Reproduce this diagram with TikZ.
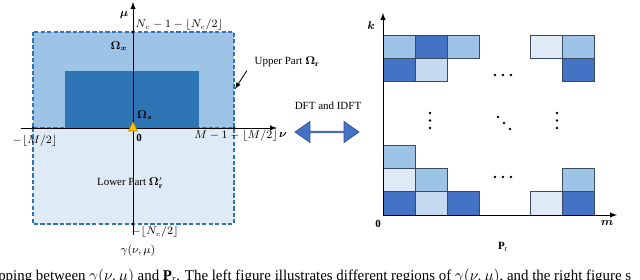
\documentclass[tikz,border=0pt]{standalone}
\usepackage{fontspec}
\setmainfont{Liberation Serif}
\usepackage{amsmath,bm}
\usetikzlibrary{shapes.arrows}

\begin{document}
\begin{tikzpicture}[x=0.025cm,y=-0.025cm,>=latex]

% colors
\definecolor{regionUpper}{HTML}{9DC3E6}
\definecolor{regionLower}{HTML}{DEEBF7}
\definecolor{regionInner}{HTML}{2E75B6}
\definecolor{cellDark}{HTML}{4472C4}
\definecolor{cellMid}{HTML}{9DC3E6}
\definecolor{cellLight}{HTML}{C5D9F1}
\definecolor{cellPale}{HTML}{DEEBF7}
\definecolor{cellBorder}{HTML}{3B4A63}
\definecolor{pilotYellow}{HTML}{FFC000}
\definecolor{pilotBorder}{HTML}{BF9000}
\definecolor{arrowFill}{HTML}{4472C4}
\definecolor{arrowBorder}{HTML}{2F528F}

\def\labelFont{\fontsize{7.8}{9}\selectfont}
\def\cellWidth{32}
\def\cellHeight{23.3}
\def\dotRadius{1.3}

\useasboundingbox (0,0) rectangle (640,279);

% left figure coordinates
\coordinate (upperTopLeft) at (33,32);
\coordinate (upperBottomRight) at (234,128);
\coordinate (lowerBottomRight) at (234,224);
\coordinate (innerTopLeft) at (65,71);
\coordinate (innerBottomRight) at (199,128);
\coordinate (nuStart) at (21,128);
\coordinate (nuEnd) at (277,128);
\coordinate (muStart) at (133,235);
\coordinate (muEnd) at (133,2);
\coordinate (dotTop) at (133,32);
\coordinate (dotBottom) at (133,224);
\coordinate (dotLeft) at (33,128);
\coordinate (dotRight) at (234,128);
\coordinate (upperEdge) at (235,89);

% regions
\fill[regionUpper] (upperTopLeft) rectangle (upperBottomRight);
\fill[regionLower] (dotLeft) rectangle (lowerBottomRight);
\fill[regionInner] (innerTopLeft) rectangle (innerBottomRight);
\draw[regionInner, line width=1pt, dash pattern=on 3pt off 1.6pt] (upperTopLeft) rectangle (upperBottomRight);
\draw[regionInner, line width=1pt, dash pattern=on 3pt off 1.6pt] (dotLeft) rectangle (lowerBottomRight);

% axes
\draw[->, line width=0.7pt] (nuStart) -- (nuEnd);
\draw[->, line width=0.7pt] (muStart) -- (muEnd);
\foreach \p in {dotTop,dotBottom,dotLeft,dotRight}
    \fill (\p) circle (\dotRadius);

% pilot
\draw[fill=pilotYellow, draw=pilotBorder, line width=0.4pt] (128.5,131) -- (137.5,131) -- (133,122) -- cycle;

% left labels
\node[font=\labelFont] (muLabel) at (124,15) {$\bm{\mu}$};
\node[font=\labelFont, anchor=west, inner sep=1pt] (topLabel) at (134,25) {$N_c-1-\lfloor N_c/2\rfloor$};
\node[font=\labelFont] (omegaX) at (119,46) {$\bm{\Omega}_{\bm{x}}$};
\node[font=\labelFont] (omegaS) at (145,115) {$\bm{\Omega}_{\bm{s}}$};
\node[font=\labelFont] (upperLabel) at (287,62) {Upper Part $\bm{\Omega}_{\mathbf{r}}$};
\node[font=\labelFont] (zeroLabel) at (139,138) {$\mathbf{0}$};
\node[font=\labelFont] (leftLabel) at (35,141) {$-\lfloor M/2\rfloor$};
\node[font=\labelFont] (rightLabel) at (236,136) {$M-1-\lfloor M/2\rfloor$};
\node[font=\labelFont] (nuLabel) at (283,135) {$\bm{\nu}$};
\node[font=\labelFont] (lowerLabel) at (130,183) {Lower Part $\bm{\Omega}'_{\mathbf{r}}$};
\node[font=\labelFont] (bottomLabel) at (155,232) {$-\lfloor N_c/2\rfloor$};
\node[font=\labelFont] (gammaLabel) at (138,251) {$\gamma(\nu,\mu)$};

\draw[->, line width=0.6pt] ([xshift=-2pt,yshift=1pt]upperLabel.south west) -- (upperEdge);

% transform arrow
\node[font=\labelFont] (dftLabel) at (328,106) {DFT and IDFT};
\node[double arrow, fill=arrowFill, draw=arrowBorder, line width=0.5pt, inner sep=0pt,
    minimum height=1.6cm, minimum width=0.525cm, double arrow head extend=0.125cm,
    double arrow tip angle=70] (dftArrow) at (327,132) {};

% right figure coordinates
\coordinate (gridOrigin) at (383,215);
\coordinate (kEnd) at (383,13);
\coordinate (mEnd) at (617,215);

% cells: x/y of the top left corner/color
\foreach \cx/\cy/\cc in {383/35/cellMid, 415/35/cellDark, 447/35/cellMid, 530/35/cellPale, 562/35/cellMid,
    383/58.3/cellDark, 415/58.3/cellLight, 562/58.3/cellDark,
    383/145/cellMid,
    383/168.3/cellPale, 415/168.3/cellMid, 562/168.3/cellMid,
    383/191.7/cellDark, 415/191.7/cellLight, 447/191.7/cellDark, 530/191.7/cellPale, 562/191.7/cellDark}
    \draw[fill=\cc, draw=cellBorder, line width=0.7pt] (\cx,\cy) rectangle ++(\cellWidth,\cellHeight);

\draw[->, line width=0.7pt] (gridOrigin) -- (kEnd);
\draw[->, line width=0.7pt] (gridOrigin) -- (mEnd);

% dots
\foreach \dx in {-8,0,8} {
    \fill (503+\dx,75) circle (\dotRadius);
    \fill (503+\dx,177) circle (\dotRadius);
}
\foreach \dy in {113,120.5,128} {
    \fill (430,\dy) circle (\dotRadius);
    \fill (557,\dy) circle (\dotRadius);
}
\foreach \d in {0,6,12}
    \fill (498+\d,117+\d) circle (\dotRadius);

% right labels
\node[font=\labelFont] (kLabel) at (371,26) {$\bm{k}$};
\node[font=\labelFont] (mLabel) at (607,223) {$\bm{m}$};
\node[font=\labelFont] (originLabel) at (378,224) {$\mathbf{0}$};
\node[font=\labelFont] (prLabel) at (503,247) {$\mathbf{P}_{\mathrm{r}}$};

% caption line
\node[font=\fontsize{10.6}{13}\selectfont, anchor=base west, inner sep=0pt] (captionLine) at (-2,280)
    {pping between $\gamma(\nu,\mu)$ and $\mathbf{P}_{\mathrm{r}}$. The left figure illustrates different regions of $\gamma(\nu,\mu)$, and the right figure s};

\end{tikzpicture}
\end{document}
